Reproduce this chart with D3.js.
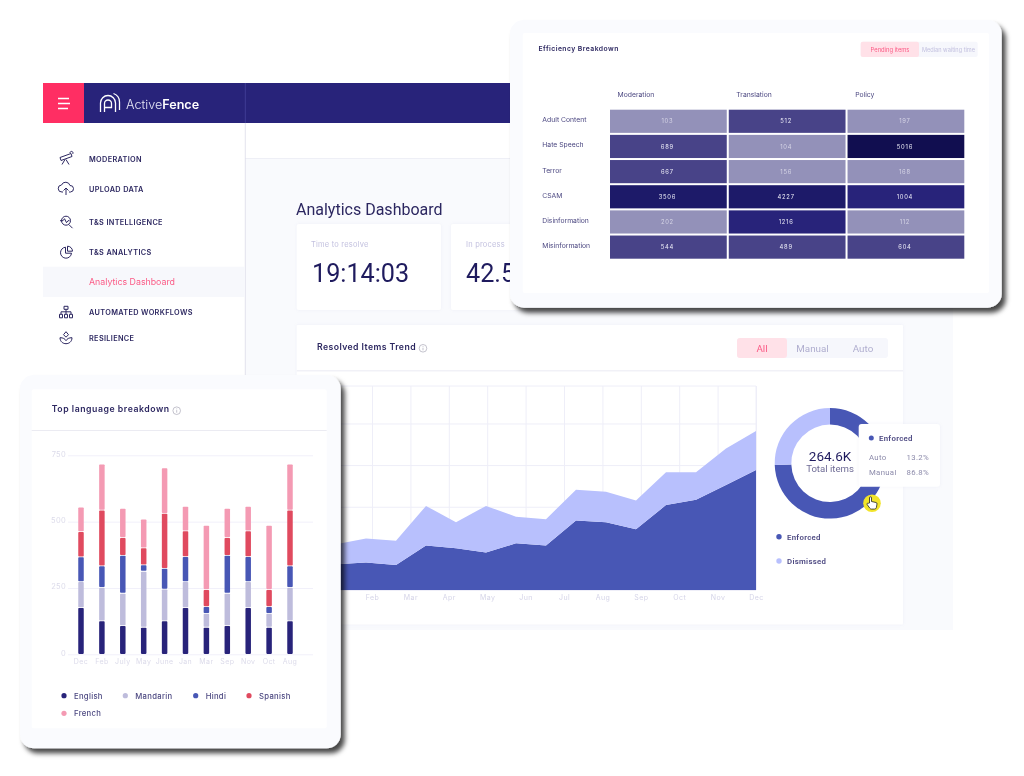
<!DOCTYPE html>
<html>
<head>
<meta charset="utf-8">
<script src="https://cdn.jsdelivr.net/npm/d3@7"></script>
<style>
  html, body { margin: 0; padding: 0; background: #fff; }
  svg { display: block; filter: blur(0.35px); }
  text { font-family: "Inter", "Noto Sans", sans-serif; }
  .rb { font-family: "Roboto", sans-serif; }
  .domain { display: none; }
</style>
</head>
<body>
<div class="chart"></div>
<script>
// stacked bars, one array per language
var barMonths = ["Dec","Feb","July","May","June","Jan","Mar","Sep","Nov","Oct","Aug"];
var languages = ["English","Mandarin","Hindi","Spanish","French"];
var english  = [176,126,108,102,126,176,102,108,176,102,126];
var mandarin = [98,126,122,211,120,98,52,122,98,52,126];
var hindi    = [93,81,143,24,78,94,26,143,94,26,81];
var spanish  = [95,210,67,64,207,97,64,67,97,64,210];
var french   = [93,174,110,109,172,93,242,110,93,242,174];
var barTicks = [0,250,500,750];

// heatmap
var heatRows = ["Adult Content","Hate Speech","Terror","CSAM","Disinformation","Misinformation"];
var heatCols = ["Moderation","Translation","Policy"];
var moderation  = [103,689,667,3506,202,544];
var translation = [512,104,156,4227,1216,489];
var policy      = [197,5016,168,1004,112,604];

// trend, 15 points across Jan..Dec
var trendMonths = ["Jan","Feb","Mar","Apr","May","Jun","Jul","Aug","Sep","Oct","Nov","Dec"];
var enforcedTrend  = [62,66,60,107,100,90,112,107,167,163,146,204,217,252,288];
var dismissedTrend = [48,58,58,95,63,112,64,63,74,73,69,79,66,88,94];
var trendTicks = [0,100,200,300,400];

// donut
var donutLabels = ["Enforced","Dismissed"];
var donutValues = [197.1,67.5];

// sidebar
var navItems = ["MODERATION","UPLOAD DATA","T&S INTELLIGENCE","T&S ANALYTICS","AUTOMATED WORKFLOWS","RESILIENCE"];
var navBase  = [161.5,192,224.7,254.7,315.3,340.7];
var navIcons = [
  "M-6 -1L5 -5L6 -2L-5 2ZM-1 1L-4 6M0 1L3 6M4 -5.5a1.5 1.5 0 1 1 2.5 1",
  "M-3 3H-4a3.5 3.5 0 0 1-.5-7a4.5 4.5 0 0 1 8.5 .5a3 3 0 0 1 .5 6.5H3M0 6V-1M-2.5 1.5L0 -1L2.5 1.5",
  "M3 3L6.5 6.5M4.5 -1a4.5 4.5 0 1 1-9 0a4.5 4.5 0 1 1 9 0M-6 -1H-3L-1.5 -3L.5 1L2 -1H3.5",
  "M-.5 -4.5a5.5 5.5 0 1 0 6 6H-.5ZM1.5 -5.5a5 5 0 0 1 5 5H1.5Z",
  "M-2 -6H2V-3H-2ZM-6.5 2H-3.5V5.5H-6.5ZM-1.5 2H1.5V5.5H-1.5ZM3.5 2H6.5V5.5H3.5ZM-5 2V-.5H5V2M0 -3V2",
  "M-6 0C-6 4 -3 6 0 6C3 6 6 4 6 0C3 0 1 1 0 3C-1 1 -3 0 -6 0ZM0 -6L2.5 -3L0 -.5L-2.5 -3Z"
];

var navy = "#28237a", blue = "#4857b5", periwinkle = "#b8c0fd", pink = "#ff2e63", ink = "#2c2760";

const svg = d3.select(".chart").append("svg")
  .attr("width", 1024)
  .attr("height", 776);

var defs = svg.append("defs");
var shadow = defs.append("filter").attr("id", "cardShadow")
  .attr("x", "-5%").attr("y", "-5%").attr("width", "112%").attr("height", "112%");
shadow.append("feDropShadow").attr("dx", 4).attr("dy", 5).attr("stdDeviation", 2.6)
  .attr("flood-color", "#000").attr("flood-opacity", 0.72);
var soft = defs.append("filter").attr("id", "softShadow")
  .attr("x", "-10%").attr("y", "-10%").attr("width", "120%").attr("height", "120%");
soft.append("feDropShadow").attr("dx", 0).attr("dy", 0).attr("stdDeviation", 1.5)
  .attr("flood-color", "#9a9ac8").attr("flood-opacity", 0.12);

function rect(g, x, y, w, h, fill, r) {
  return g.append("rect").attr("x", x).attr("y", y).attr("width", w).attr("height", h)
    .attr("fill", fill).attr("rx", r || 0);
}
function label(g, x, y, s, size, fill, weight, anchor, spacing, cls) {
  return g.append("text").attr("x", x).attr("y", y).text(s)
    .attr("font-size", size).attr("fill", fill)
    .attr("font-weight", weight || 400)
    .attr("text-anchor", anchor || "start")
    .attr("letter-spacing", spacing || 0)
    .attr("class", cls || null);
}
function infoIcon(g, x, y) {
  g.append("circle").attr("cx", x).attr("cy", y).attr("r", 3.8)
    .attr("fill", "none").attr("stroke", "#aaa9b8").attr("stroke-width", 0.7);
  g.append("path").attr("d", "M" + x + " " + (y - 0.6) + "V" + (y + 2) + "M" + x + " " + (y - 2.2) + "V" + (y - 1.4))
    .attr("stroke", "#aaa9b8").attr("stroke-width", 0.7);
}

// ---- dashboard behind the cards
var dash = svg.append("g");
rect(dash, 245, 159, 708, 471, "#f9fafd");
rect(dash, 245, 123, 708, 36, "#fff");
dash.append("path").attr("d", "M245 158.5H953").attr("stroke", "#eeeff6").attr("stroke-width", 1.2);
dash.append("path").attr("d", "M245.3 123V376").attr("stroke", "#dddde8").attr("stroke-width", 0.8);
rect(dash, 84, 83, 869, 40, navy);
rect(dash, 43, 83, 41, 40, pink);
dash.append("path").attr("d", "M245.3 83V123").attr("stroke", "#4a46a0").attr("stroke-width", 0.7);
dash.append("path").attr("d", "M58 98.5H69M58 103.5H70M58 108.5H68")
  .attr("stroke", "#fff").attr("stroke-width", 1.3);

// logo
dash.append("path")
  .attr("d", "M100.5 112V103a7.5 7.5 0 0 1 15 0V112M104.5 112V103.5a3.5 3.5 0 0 1 7 0V107.5H104.5M119.5 110V102a9 9 0 0 0-6-8.5")
  .attr("fill", "none").attr("stroke", "#fff").attr("stroke-width", 1.3);
var logo = label(dash, 126, 108.8, "Active", 12.6, "#e6e6f5", 300);
logo.append("tspan").text("Fence").attr("font-weight", 600).attr("fill", "#fff");

// sidebar
rect(dash, 43, 266.7, 202, 30.3, "#f7f8fc");
label(dash, 89, 284.5, "Analytics Dashboard", 8.8, "#fb5b86");
navItems.forEach(function(n, i) {
  label(dash, 89, navBase[i], n, 7.3, ink, 600, "start", 0.35);
  dash.append("path").attr("d", navIcons[i])
    .attr("transform", "translate(66," + (navBase[i] - 3) + ")")
    .attr("fill", "none").attr("stroke", ink).attr("stroke-width", 1);
});

// headline and kpi cards
label(dash, 296, 214.5, "Analytics Dashboard", 16, ink, 400, "start", 0, "rb");
rect(dash, 296.7, 224, 144.3, 86, "#fff", 2).attr("filter", "url(#softShadow)");
rect(dash, 451, 224, 120, 86, "#fff", 2).attr("filter", "url(#softShadow)");
label(dash, 311, 247, "Time to resolve", 7.5, "#c3c1df", 400, "start", 0.2);
label(dash, 466, 247, "In process", 7.5, "#c3c1df", 400, "start", 0.2);
label(dash, 312, 282, "19:14:03", 25.2, "#1f1b5e", 400, "start", 0, "rb");
label(dash, 466, 282, "42.5", 25.2, "#1f1b5e", 400, "start", 0, "rb");

// ---- trend card
rect(dash, 296.7, 325, 606.3, 299.5, "#fff", 1).attr("filter", "url(#softShadow)");
dash.append("path").attr("d", "M296.7 370.8H903").attr("stroke", "#f1f1f7").attr("stroke-width", 1.4);
label(dash, 317, 349.5, "Resolved Items Trend", 8.7, ink, 600, "start", 0.42);
infoIcon(dash, 423, 348.3);
rect(dash, 737, 338, 151, 20, "#f6f7fc", 3);
rect(dash, 737, 338, 50, 20, "#ffe1e8", 3);
label(dash, 762, 351.5, "All", 9.8, "#fb5b86", 400, "middle", 0, "rb");
label(dash, 812.5, 351.5, "Manual", 9.8, "#b0aecf", 400, "middle", 0, "rb");
label(dash, 863, 351.5, "Auto", 9.8, "#b0aecf", 400, "middle", 0, "rb");

var trendX = d3.scalePoint().domain(trendMonths).range([333.6, 756]);
var trendI = d3.scaleLinear().domain([0, enforcedTrend.length - 1]).range([336, 756]);
var trendY = d3.scaleLinear().domain([0, 490]).range([590, 386]);

var gridY = dash.append("g").attr("transform", "translate(333.6,0)")
  .call(d3.axisLeft(trendY).tickValues(trendTicks).tickSize(-422.4).tickFormat(""));
gridY.selectAll("line").attr("stroke", "#eeeef8");
var gridX = dash.append("g").attr("transform", "translate(0,590)")
  .call(d3.axisBottom(trendX).tickSize(-204).tickPadding(5));
gridX.selectAll("line").attr("stroke", "#eeeef8");
gridX.selectAll("text").attr("fill", "#d5d4e8").attr("font-size", 7).attr("letter-spacing", 0.4)
  .style("font-family", "Inter");
dash.append("path").attr("d", "M333 386H756V590").attr("fill", "none").attr("stroke", "#eeeef8");

var trendRows = enforcedTrend.map(function(d, i) {
  return { i: i, enforced: d, dismissed: dismissedTrend[i] };
});
var trendStack = d3.stack().keys(["enforced", "dismissed"])(trendRows);
var trendArea = d3.area()
  .x(function(d) { return trendI(d.data.i); })
  .y0(function(d) { return trendY(d[0]); })
  .y1(function(d) { return trendY(d[1]); });
dash.selectAll("path.trend").data(trendStack).enter().append("path")
  .attr("class", "trend")
  .attr("d", trendArea)
  .attr("fill", function(d, i) { return i === 0 ? blue : periwinkle; });

// donut
var pie = d3.pie().sort(null);
var arc = d3.arc().innerRadius(38.7).outerRadius(55.3);
var donut = dash.append("g").attr("transform", "translate(830,463.3)");
donut.selectAll("path").data(pie(donutValues)).enter().append("path")
  .attr("d", arc)
  .attr("fill", function(d, i) { return i === 0 ? blue : periwinkle; });
label(donut, 0, -2.6, "264.6K", 13.5, "#1f1b5e", 400, "middle", 0, "rb");
label(donut, 0, 8.4, "Total items", 9.6, "#6f6c96", 400, "middle", 0, "rb");

donutLabels.forEach(function(n, i) {
  var y = [536.7, 561][i];
  dash.append("circle").attr("cx", 779).attr("cy", y).attr("r", 2.7).attr("fill", i === 0 ? blue : periwinkle);
  label(dash, 787, y + 2.8, n, 7.8, "#4b4780", 600, "start", 0.3, "rb");
});

// tooltip
var tip = dash.append("g");
rect(tip, 858.7, 424, 81.3, 62.7, "#fff", 3).attr("filter", "url(#softShadow)");
tip.append("circle").attr("cx", 871.3).attr("cy", 438).attr("r", 2.5).attr("fill", blue);
label(tip, 879, 440.8, "Enforced", 7.8, "#4b4780", 600, "start", 0.3, "rb");
label(tip, 869, 459.5, "Auto", 7.8, "#8d8bab", 400, "start", 0.3, "rb");
label(tip, 929, 459.5, "13.2%", 7.8, "#8d8bab", 400, "end", 0.3, "rb");
label(tip, 869, 474.5, "Manual", 7.8, "#8d8bab", 400, "start", 0.3, "rb");
label(tip, 929, 474.5, "86.8%", 7.8, "#8d8bab", 400, "end", 0.3, "rb");

// cursor
dash.append("circle").attr("cx", 872).attr("cy", 503.3).attr("r", 8.8).attr("fill", "#f2e42a");
dash.append("path")
  .attr("d", "M869.5 503V497.8a1 1 0 0 1 2 0V501.5l4.5 1a1.3 1.3 0 0 1 1 1.4l-.6 3.6a2 2 0 0 1-2 1.6h-3a2 2 0 0 1-1.6-.9l-2.6-3.6a1 1 0 0 1 1.5-1.3z")
  .attr("fill", "#fff").attr("stroke", "#222").attr("stroke-width", 0.8);

// ---- language card
var left = svg.append("g");
rect(left, 20, 375, 320.7, 373.3, "#fafbfe", 14).attr("filter", "url(#cardShadow)");
rect(left, 31.7, 389.3, 295, 339, "#fff", 2);
left.append("path").attr("d", "M31.7 430.5H326.7").attr("stroke", "#e9e9f1").attr("stroke-width", 0.9);
label(left, 51.7, 412.4, "Top language breakdown", 8.7, ink, 600, "start", 0.55);
infoIcon(left, 176.7, 410.7);

var barRows = barMonths.map(function(m, i) {
  return { i: i, English: english[i], Mandarin: mandarin[i], Hindi: hindi[i], Spanish: spanish[i], French: french[i] };
});
var barStack = d3.stack().keys(languages)(barRows);
var barColor = d3.scaleOrdinal().domain(languages).range([navy, "#bebcdc", blue, "#e04a5f", "#f49ab3"]);
var barX = d3.scaleBand().domain(barMonths).range([70.55, 300.45]).paddingInner(0.737).paddingOuter(0.3685);
var barY = d3.scaleLinear().domain([0, 750]).range([654.3, 455.3]);

var barGridY = left.append("g").attr("transform", "translate(68,0)")
  .call(d3.axisLeft(barY).tickValues(barTicks).tickSize(-245).tickPadding(2));
barGridY.selectAll("line").attr("stroke", "#f1f0fa");
barGridY.selectAll("text").attr("fill", "#dcdbea").attr("font-size", 7.5).attr("dy", "0.1em")
  .attr("letter-spacing", 0.3).style("font-family", "Inter");
var barAxisX = left.append("g").attr("transform", "translate(0,654.3)")
  .call(d3.axisBottom(barX).tickSize(0).tickPadding(4.5));
barAxisX.selectAll("text").attr("fill", "#dcdbea").attr("font-size", 7).attr("letter-spacing", 0.4)
  .style("font-family", "Inter");

left.selectAll("g.layer").data(barStack).enter().append("g").attr("class", "layer")
  .attr("fill", function(d) { return barColor(d.key); })
  .selectAll("rect").data(function(d) { return d; }).enter().append("rect")
  .attr("x", function(d) { return barX(barMonths[d.data.i]); })
  .attr("width", barX.bandwidth())
  .attr("y", function(d) { return barY(d[1]) + 0.4; })
  .attr("height", function(d) { return Math.max(0, barY(d[0]) - barY(d[1]) - 0.8); })
  .attr("rx", 0.8);

var legendX = [64, 125.3, 195.7, 249, 64];
var legendY = [695.7, 695.7, 695.7, 695.7, 713.3];
languages.forEach(function(n, i) {
  left.append("circle").attr("cx", legendX[i]).attr("cy", legendY[i]).attr("r", 2.6).attr("fill", barColor(n));
  label(left, legendX[i] + 10, legendY[i] + 2.8, n, 7.7, "#4b4780", 500, "start", 0.3);
});

// ---- heatmap card
var heat = svg.append("g");
rect(heat, 510, 20, 491.7, 287.7, "#fafbfe", 14).attr("filter", "url(#cardShadow)");
rect(heat, 522.7, 33, 466.3, 260, "#fff", 2);
label(heat, 538.5, 50.7, "Efficiency Breakdown", 6.8, ink, 600, "start", 0.45);
rect(heat, 860.7, 41.7, 117, 15.3, "#f6f7fc", 2);
rect(heat, 860.7, 41.7, 58.3, 15.3, "#ffe1e8", 2);
label(heat, 890, 51.5, "Pending items", 5.8, "#fb5b86", 400, "middle");
label(heat, 948.5, 51.5, "Median waiting time", 5.6, "#c3c1df", 400, "middle");

var heatX = d3.scaleBand().domain(heatCols).range([610, 964.3]).paddingInner(0.017);
var heatY = d3.scaleBand().domain(heatRows).range([109.7, 258.7]).paddingInner(0.08);
var heatColor = d3.scaleThreshold().domain([250, 1000, 3000, 4500])
  .range(["#9391b9", "#484388", navy, "#1d1a69", "#110e50"]);
var heatCells = [];
heatRows.forEach(function(r, i) {
  heatCells.push({ row: r, col: "Moderation", v: moderation[i] });
  heatCells.push({ row: r, col: "Translation", v: translation[i] });
  heatCells.push({ row: r, col: "Policy", v: policy[i] });
});
heat.selectAll("rect.cell").data(heatCells).enter().append("rect")
  .attr("class", "cell")
  .attr("x", function(d) { return heatX(d.col); })
  .attr("y", function(d) { return heatY(d.row); })
  .attr("width", heatX.bandwidth())
  .attr("height", heatY.bandwidth())
  .attr("fill", function(d) { return heatColor(d.v); });
heat.selectAll("text.val").data(heatCells).enter().append("text")
  .attr("class", "val")
  .attr("x", function(d) { return heatX(d.col) + heatX.bandwidth() / 2 - 1; })
  .attr("y", function(d) { return heatY(d.row) + heatY.bandwidth() / 2 + 2.2; })
  .attr("text-anchor", "middle")
  .attr("font-size", 5.8)
  .attr("letter-spacing", 0.75)
  .attr("fill", function(d) { return d.v < 250 ? "#d6d5e6" : "#eeeef8"; })
  .text(function(d) { return d.v; });
heatCols.forEach(function(c) {
  label(heat, heatX(c) + 7.6, 96.8, c, 6.8, "#4b4780");
});
heatRows.forEach(function(r) {
  label(heat, 542.3, heatY(r) + 12.6, r, 6.8, "#4b4780");
});
</script>
</body>
</html>
